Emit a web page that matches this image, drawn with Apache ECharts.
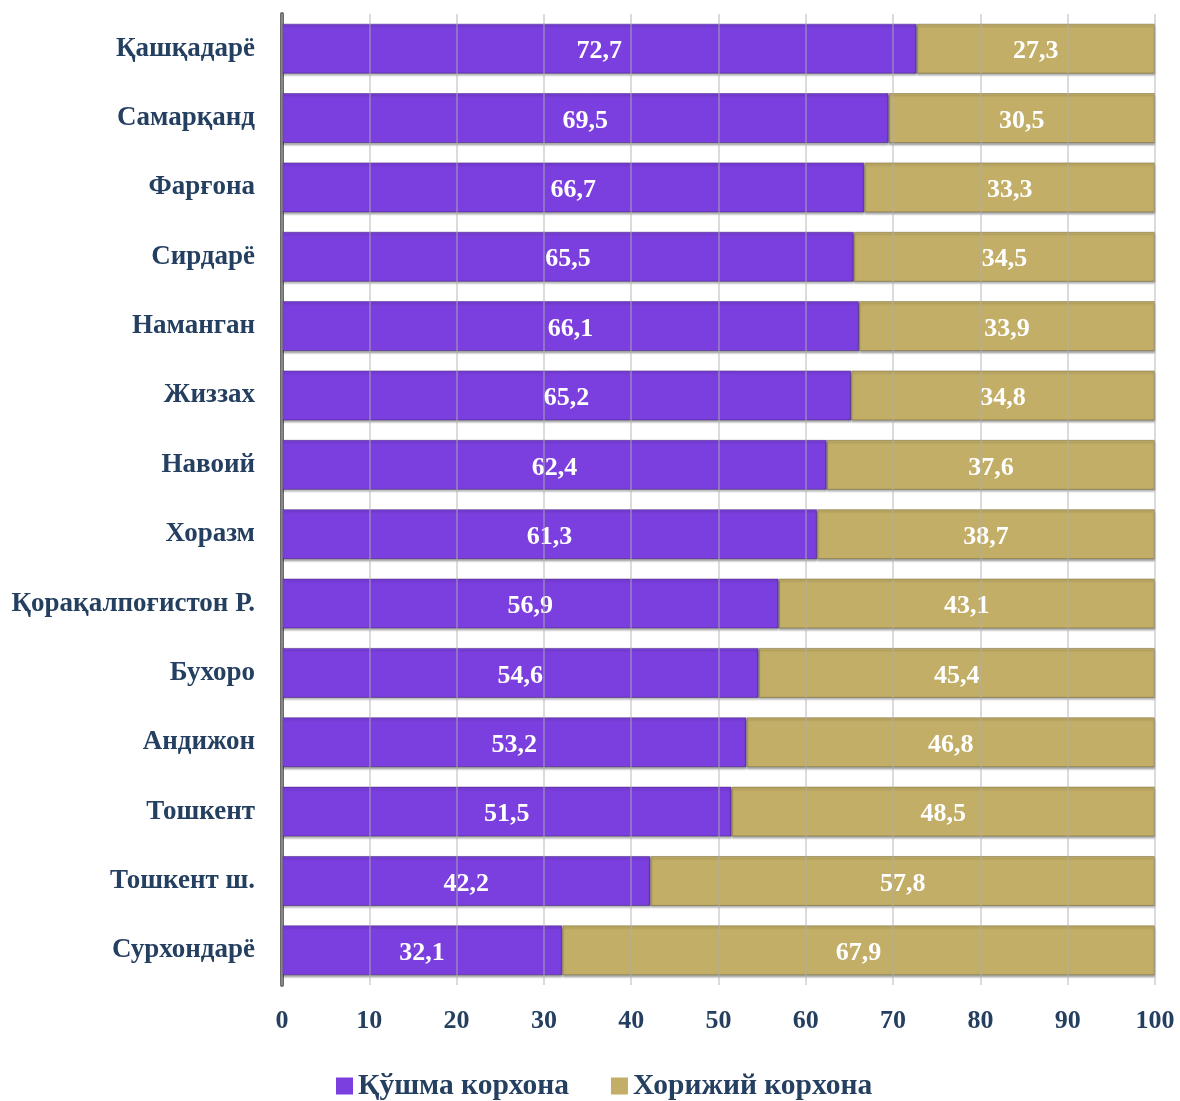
<!DOCTYPE html>
<html><head><meta charset="utf-8">
<script src="https://cdn.jsdelivr.net/npm/echarts@6/dist/echarts.min.js"></script>
<style>html,body{margin:0;padding:0;background:#fff}#c{width:1180px;height:1101px}</style>
</head><body><div id="c"></div>
<script>
const categories = ["Қашқадарё","Самарқанд","Фарғона","Сирдарё","Наманган","Жиззах","Навоий","Хоразм","Қорақалпоғистон Р.","Бухоро","Андижон","Тошкент","Тошкент ш.","Сурхондарё"];
const jointValues = [72.7,69.5,66.7,65.5,66.1,65.2,62.4,61.3,56.9,54.6,53.2,51.5,42.2,32.1];
const foreignValues = [27.3,30.5,33.3,34.5,33.9,34.8,37.6,38.7,43.1,45.4,46.8,48.5,57.8,67.9];
const seriesNames = ["Қўшма корхона","Хорижий корхона"];
const xTicks = [0,10,20,30,40,50,60,70,80,90,100];

const font = '"Liberation Serif", "DejaVu Serif", serif';
const textColor = '#243F60';
const chart = echarts.init(document.getElementById('c'));
const fmt = p => String(p.value).replace('.', ',');
chart.setOption({
  animation:false,
  grid:{left:282,right:25,top:14,bottom:116,containLabel:false},
  legend:{bottom:-5,left:331,itemWidth:17,itemHeight:17,itemGap:42,icon:'rect',
    itemStyle:{borderWidth:0,shadowBlur:0,shadowOffsetY:0},
    textStyle:{fontFamily:font,fontWeight:'bold',fontSize:29.5,color:textColor},data:seriesNames},
  xAxis:[{type:'value',min:0,max:100,interval:10,
    axisLabel:{fontFamily:font,fontWeight:'bold',fontSize:26,color:textColor,margin:23,
      formatter:v=>xTicks.includes(v)?String(v):''},
    axisLine:{show:false},axisTick:{show:false},splitLine:{show:false}},
   {type:'value',min:0,max:100,interval:10,position:'bottom',z:5,
    axisLabel:{show:false},axisLine:{show:false},axisTick:{show:false},
    splitLine:{show:true,lineStyle:{color:'rgba(175,175,175,0.45)',width:2}}}],
  yAxis:{type:'category',data:categories,inverse:true,
    axisLabel:{fontFamily:font,fontWeight:'bold',fontSize:27,color:textColor,margin:27},
    axisLine:{show:true,lineStyle:{color:'#6a6a6a',width:4}},axisTick:{show:false}},
  series:[
    {name:seriesNames[0],type:'bar',stack:'a',data:jointValues,barWidth:50,
     itemStyle:{color:'#7B3FDF',borderColor:'rgba(60,30,110,0.5)',borderWidth:1,
       shadowColor:'rgba(0,0,0,0.35)',shadowOffsetY:2,shadowBlur:2},
     label:{show:true,position:'inside',offset:[0,3],formatter:fmt,fontFamily:font,fontWeight:'bold',fontSize:26,color:'#fff'}},
    {name:seriesNames[1],type:'bar',stack:'a',data:foreignValues,barWidth:50,
     itemStyle:{color:'#C2AE66',borderColor:'rgba(110,95,50,0.5)',borderWidth:1,
       shadowColor:'rgba(0,0,0,0.35)',shadowOffsetY:2,shadowBlur:2},
     label:{show:true,position:'inside',offset:[0,3],formatter:fmt,fontFamily:font,fontWeight:'bold',fontSize:26,color:'#fff'}}
  ]
});
</script></body></html>
